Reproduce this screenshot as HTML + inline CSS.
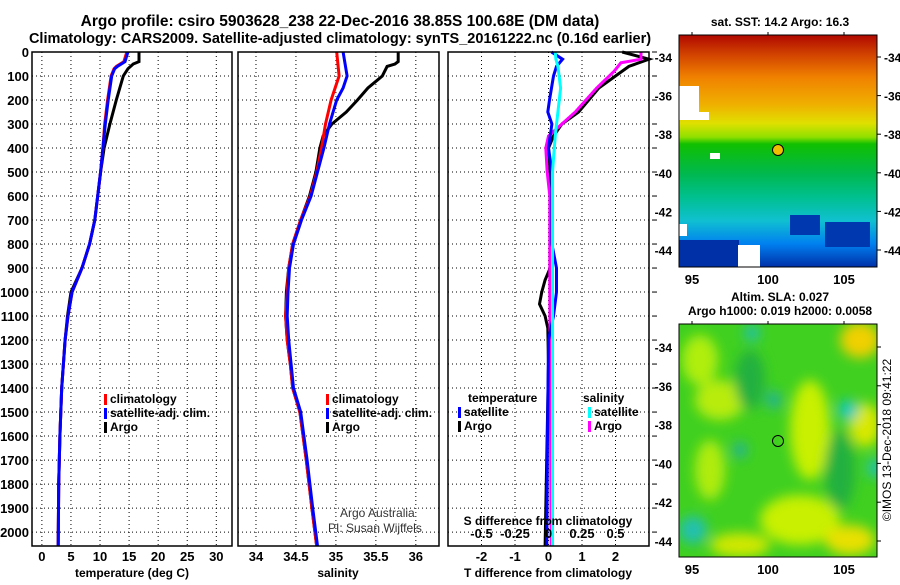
<!DOCTYPE html>
<html><head><meta charset="utf-8"><style>
body{margin:0;background:#fff;}
svg text{font-family:"Liberation Sans",sans-serif;font-weight:bold;fill:#000;}
</style></head><body>
<svg id="fig" width="900" height="580" xmlns="http://www.w3.org/2000/svg">
<defs>
<linearGradient id="sstg" x1="0" y1="0" x2="0" y2="1">
<stop offset="0" stop-color="#b00800"/><stop offset="0.08" stop-color="#d04000"/><stop offset="0.18" stop-color="#f08000"/>
<stop offset="0.3" stop-color="#f0b000"/><stop offset="0.38" stop-color="#e0e000"/><stop offset="0.44" stop-color="#90e000"/>
<stop offset="0.47" stop-color="#10c000"/><stop offset="0.6" stop-color="#00b850"/><stop offset="0.7" stop-color="#00c090"/>
<stop offset="0.8" stop-color="#10c0d0"/><stop offset="0.9" stop-color="#0080f0"/><stop offset="1" stop-color="#0030a8"/>
</linearGradient>
<filter id="blur"><feGaussianBlur stdDeviation="6"/></filter>
<clipPath id="m1"><rect x="679" y="35" width="198" height="232"/></clipPath>
<clipPath id="m2"><rect x="679" y="324" width="198" height="233"/></clipPath>
</defs>
<text x="340" y="26" text-anchor="middle" font-size="15.5">Argo profile: csiro 5903628_238 22-Dec-2016 38.85S 100.68E (DM data)</text>
<text x="340" y="43" text-anchor="middle" font-size="14.5">Climatology: CARS2009. Satellite-adjusted climatology: synTS_20161222.nc (0.16d earlier)</text>
<g id="plots"></g>
<g>
<text x="780" y="26" text-anchor="middle" font-size="12">sat. SST: 14.2 Argo: 16.3</text>
<g clip-path="url(#m1)">
<rect x="679" y="35" width="198" height="232" fill="url(#sstg)"/>
<rect x="679" y="86" width="20" height="26" fill="#fff"/><rect x="679" y="112" width="30" height="8" fill="#fff"/>
<rect x="710" y="153" width="10" height="6" fill="#fff"/><rect x="679" y="224" width="8" height="12" fill="#fff"/>
<rect x="679" y="240" width="60" height="27" fill="#0030a8"/><rect x="738" y="245" width="22" height="22" fill="#fff"/>
<rect x="790" y="215" width="30" height="20" fill="#0038b0"/><rect x="825" y="222" width="45" height="25" fill="#0038b0"/>
</g>
<rect x="679" y="35" width="198" height="232" fill="none" stroke="#000"/>
<circle cx="778" cy="150" r="5.5" fill="#f0c000" stroke="#000"/>
</g>
<g>
<text x="780" y="301" text-anchor="middle" font-size="12">Altim. SLA: 0.027</text>
<text x="780" y="315" text-anchor="middle" font-size="12">Argo h1000: 0.019 h2000: 0.0058</text>
<g clip-path="url(#m2)">
<rect x="679" y="324" width="198" height="233" fill="#40d020"/>
<g filter="url(#blur)">
<ellipse cx="700" cy="360" rx="18" ry="25" fill="#b0ee10"/><ellipse cx="810" cy="430" rx="20" ry="50" fill="#c8f000"/>
<ellipse cx="860" cy="340" rx="20" ry="18" fill="#f0d000"/><ellipse cx="865" cy="425" rx="16" ry="22" fill="#d8e800"/>
<ellipse cx="720" cy="400" rx="25" ry="20" fill="#b8ec10"/><ellipse cx="800" cy="520" rx="40" ry="25" fill="#c8f000"/>
<ellipse cx="740" cy="545" rx="30" ry="12" fill="#d0e800"/><ellipse cx="710" cy="470" rx="15" ry="30" fill="#b0ec10"/>
<ellipse cx="850" cy="540" rx="25" ry="15" fill="#e8e000"/>
<ellipse cx="750" cy="380" rx="15" ry="30" fill="#20b040"/><ellipse cx="840" cy="470" rx="15" ry="40" fill="#20b040"/>
<ellipse cx="693" cy="530" rx="14" ry="14" fill="#20c0b0"/><ellipse cx="848" cy="410" rx="10" ry="10" fill="#10c8c0"/>
<ellipse cx="774" cy="400" rx="7" ry="9" fill="#20b0a0"/><ellipse cx="740" cy="450" rx="7" ry="8" fill="#20b0a0"/>
<ellipse cx="752" cy="333" rx="8" ry="8" fill="#20c0b0"/><ellipse cx="875" cy="468" rx="7" ry="10" fill="#20c0c0"/>
</g></g>
<rect x="679" y="324" width="198" height="233" fill="none" stroke="#000"/>
<circle cx="778" cy="441" r="5.5" fill="none" stroke="#000"/>
<text transform="translate(891,440) rotate(-90)" text-anchor="middle" font-size="12" style="font-weight:normal">©IMOS 13-Dec-2018 09:41:22</text>
</g>
<text x="340" y="517" font-size="12" style="font-weight:normal;fill:#333">Argo Australia</text>
<text x="328" y="532" font-size="12" style="font-weight:normal;fill:#333">PI: Susan Wijffels</text>
</svg>
<script>
// depth axis
const depthTicks=[0,100,200,300,400,500,600,700,800,900,1000,1100,1200,1300,1400,1500,1600,1700,1800,1900,2000];
// temperature panel
const tempTicks=[0,5,10,15,20,25,30];
const climT=[[0,14.6],[40,14.1],[60,12.8],[70,12.4],[100,11.9],[200,11.3],[300,10.8],[400,10.5],[500,10.1],[600,9.6],[700,9.1],[800,8.2],[900,6.9],[1000,5.2],[1100,4.5],[1200,4.0],[1300,3.7],[1400,3.4],[1600,3.1],[1800,2.9],[2058,2.8]];
const satT=[[0,14.8],[40,14.3],[60,13.0],[70,12.5],[100,12.0],[200,11.4],[300,10.9],[400,10.5],[500,10.1],[600,9.6],[700,9.1],[800,8.2],[900,6.9],[1000,5.2],[1100,4.5],[1200,4.0],[1300,3.7],[1400,3.4],[1600,3.1],[1800,2.9],[2058,2.8]];
const argoT=[[0,16.7],[40,16.7],[50,15.7],[70,14.8],[100,14.0],[200,12.8],[300,11.7],[350,11.2],[400,10.7],[500,10.1],[600,9.6],[700,9.1],[800,8.2],[900,6.9],[1000,5.0],[1100,4.4],[1200,4.0],[1300,3.7],[1400,3.4],[1600,3.1],[1800,2.9],[2058,2.8]];
// salinity panel
const salTicks=[34,34.5,35,35.5,36];
const climS=[[0,35.01],[100,35.04],[150,34.99],[200,34.94],[300,34.87],[400,34.82],[500,34.76],[600,34.68],[700,34.56],[800,34.46],[900,34.41],[1000,34.39],[1100,34.37],[1200,34.39],[1300,34.43],[1400,34.46],[1500,34.55],[1700,34.63],[1900,34.70],[2058,34.76]];
const satS=[[0,35.09],[100,35.14],[150,35.09],[200,35.01],[300,34.92],[400,34.85],[500,34.77],[600,34.69],[700,34.57],[800,34.47],[900,34.42],[1000,34.40],[1100,34.39],[1200,34.41],[1300,34.44],[1400,34.47],[1500,34.56],[1700,34.64],[1900,34.71],[2058,34.77]];
const argoS=[[0,35.78],[40,35.78],[50,35.74],[60,35.64],[100,35.58],[150,35.40],[200,35.27],[250,35.13],[300,34.95],[350,34.84],[400,34.80],[500,34.75],[600,34.67],[700,34.56],[800,34.46],[900,34.41],[1000,34.38],[1100,34.37],[1200,34.39],[1300,34.43],[1400,34.46],[1500,34.55],[1700,34.63],[1900,34.70],[2058,34.76]];
// difference panel
const diffTTicks=[-2,-1,0,1,2];
const diffSTicks=[-0.5,-0.25,0,0.25,0.5];
const diffSatT=[[0,0.09],[30,0.42],[60,0.24],[100,0.15],[200,0.03],[250,-0.02],[300,0.1],[400,0],[500,0.1],[800,0.1],[900,0.24],[1000,0.24],[1100,0.15],[1200,0],[1600,-0.03],[2058,-0.05]];
const diffArgoT=[[0,2.2],[30,3.0],[60,2.4],[100,2.0],[150,1.5],[200,1.2],[250,0.9],[300,0.4],[350,0.15],[400,0],[500,0.05],[900,0.05],[950,-0.1],[1000,-0.2],[1050,-0.27],[1100,-0.1],[1150,-0.02],[1300,0],[2058,-0.1]];
const diffSatS=[[0,0.05],[30,0.055],[60,0.07],[150,0.09],[250,0.07],[350,0.05],[500,0.03],[1000,0.03],[2058,0.03]];
const diffArgoS=[[0,0.69],[30,0.69],[45,0.54],[80,0.49],[150,0.36],[200,0.28],[250,0.2],[300,0.1],[350,0],[400,-0.02],[500,-0.01],[600,0.01],[1000,0.01],[2058,0.02]];

const NS='http://www.w3.org/2000/svg';
const root=document.getElementById('plots');
const Y0=52,Y1=546,DMAX=2058;
const yScale=d=>Y0+(d/DMAX)*(Y1-Y0);
function mk(tag,attrs,parent){const e=document.createElementNS(NS,tag);for(const k in attrs)e.setAttribute(k,attrs[k]);(parent||root).appendChild(e);return e;}
function panel(name,x0,x1,dmin,dmax){
  const g=mk('g',{});
  
  
  const xs=v=>x0+(v-dmin)/(dmax-dmin)*(x1-x0);
  return {g,xs,x0,x1};
}
function grid(p,ticks){
  depthTicks.forEach(d=>{const l=mk('line',{x1:p.x0,x2:p.x1,y1:yScale(d),y2:yScale(d),stroke:'#000','stroke-dasharray':'1,3'},p.g);
    
    });
  ticks.forEach(v=>{const l=mk('line',{x1:p.xs(v),x2:p.xs(v),y1:Y0,y2:Y1,stroke:'#000','stroke-dasharray':'1,3'},p.g);
    
    });
}
function frame(p){const r=mk('rect',{x:p.x0,y:Y0,width:p.x1-p.x0,height:Y1-Y0,fill:'none',stroke:'#000','stroke-width':1.5},p.g);
  
  }
function line(p,data,col,name,w){
  const pts=data.map(([d,v])=>p.xs(v).toFixed(1)+','+yScale(d).toFixed(1)).join(' ');
  const l=mk('polyline',{points:pts,fill:'none',stroke:col,'stroke-width':w||3},p.g);
  
  
}
function xlabels(p,ticks,y,fmt){ticks.forEach(v=>{const t=mk('text',{x:p.xs(v),y:y,'text-anchor':'middle','font-size':13},p.g);t.textContent=fmt?fmt(v):v;
  
  });}
function txt(p,x,y,s,name,size,anchor){const t=mk('text',{x:x,y:y,'font-size':size||12,'text-anchor':anchor||'start'},p.g);t.textContent=s;
  
  return t;}
function legend(p,x,y,items){items.forEach((it,i)=>{const r=mk('rect',{x:x,y:y+i*14-9,width:3,height:11,fill:it[1]},p.g);
  
  
  txt(p,x+6,y+i*14,it[0],'legend-entry',12);});}

// Panel 1
const p1=panel('temperature-panel',32,232,-1.7,32.7);
grid(p1,tempTicks);
line(p1,argoT,'#000','argo-temperature-line');
line(p1,climT,'#f00','climatology-temperature-line');
line(p1,satT,'#00f','satellite-temperature-line');
frame(p1);
xlabels(p1,tempTicks,561);
txt(p1,132,577,'temperature (deg C)','x-axis-title-temperature',12,'middle');
depthTicks.forEach(d=>{txt(p1,29,yScale(d)+5,String(d),'y-tick-label',13,'end');});
legend(p1,104,403,[['climatology','#f00'],['satellite-adj. clim.','#00f'],['Argo','#000']]);

// Panel 2
const p2=panel('salinity-panel',238,439,33.775,36.29);
grid(p2,salTicks);
line(p2,argoS,'#000','argo-salinity-line');
line(p2,climS,'#f00','climatology-salinity-line');
line(p2,satS,'#00f','satellite-salinity-line');
frame(p2);
xlabels(p2,salTicks,561);
txt(p2,338,577,'salinity','x-axis-title-salinity',12,'middle');
legend(p2,326,403,[['climatology','#f00'],['satellite-adj. clim.','#00f'],['Argo','#000']]);

// Panel 3
const p3=panel('difference-panel',448,649,-3,3);
const p3s={g:p3.g,xs:v=>p3.xs(v*4),x0:448,x1:649};
grid(p3,diffTTicks);
line(p3,diffArgoT,'#000','argo-temperature-diff-line');
line(p3s,diffArgoS,'#f0f','argo-salinity-diff-line');
line(p3,diffSatT,'#00f','satellite-temperature-diff-line');
line(p3s,diffSatS,'#0ff','satellite-salinity-diff-line');
frame(p3);
xlabels(p3,diffTTicks,561);
xlabels(p3s,diffSTicks,538);
txt(p3,548,525,'S difference from climatology','s-axis-title',12,'middle');
txt(p3,548,577,'T difference from climatology','t-axis-title',12,'middle');
depthTicks.forEach(d=>{const l=mk('line',{x1:652,x2:657,y1:yScale(d),y2:yScale(d),stroke:'#000'},p3.g);
  
  });
txt(p3,468,402,'temperature','legend-title-temperature',12);
legend(p3,458,416,[['satellite','#00f'],['Argo','#000']]);
txt(p3,583,402,'salinity','legend-title-salinity',12);
legend(p3,588,416,[['satellite','#0ff'],['Argo','#f0f']]);

// map axes
const lonTicks=[95,100,105];
const latTicks=[-34,-36,-38,-40,-42,-44];
const mg=mk('g',{});


function lonX(l){return 768+(l-100)*15.2;}
[[35,267,57,19.3,true],[324,557,347,19.4,false]].forEach(([top,bot,y34,py,right])=>{
  lonTicks.forEach(l=>{const t=mk('text',{x:lonX(l),y:bot+17,'text-anchor':'middle','font-size':13},mg);t.textContent=l;
    
    
    mk('line',{x1:lonX(l),x2:lonX(l),y1:top-3,y2:top+1,stroke:'#000'},mg);});
  latTicks.forEach(la=>{const y=y34+(-34-la)*py;
    const t=mk('text',{x:672,y:y+5,'text-anchor':'end','font-size':12},mg);t.textContent=la;
    
    
    mk('line',{x1:877,x2:881,y1:y,y2:y,stroke:'#000'},mg);
    if(right){const t2=mk('text',{x:884,y:y+5,'font-size':12},mg);t2.textContent=la;
      
      }
  });
});
</script>
</body></html>
